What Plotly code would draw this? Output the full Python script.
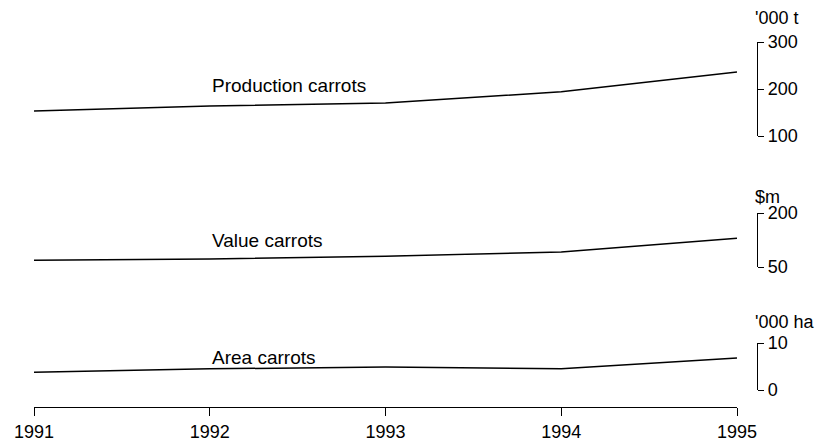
import plotly.graph_objects as go

years = [1991, 1992, 1993, 1994, 1995]
production = [153, 164, 170, 194, 236]   # '000 t
value = [69, 72, 80, 92, 130]            # $m
area = [3.8, 4.5, 4.9, 4.5, 6.8]         # '000 ha

FONT = "Liberation Sans, Arial, sans-serif"
OFF = 8  # default page body margin
W, H = 827 - OFF, 441 - OFF
ml = 34 - OFF
x_end = 737 - OFF
mr = 60
mt = 2
x_axis_y = 407 - OFF
mb = H - x_axis_y
pw = W - ml - mr
ph = H - mt - mb
xdom_end = (x_end - ml) / pw
ypos = (757 - OFF - ml) / pw

def ydom(top_px, bot_px):
    return [(x_axis_y - (bot_px - OFF)) / ph, (x_axis_y - (top_px - OFF)) / ph]

fig = go.Figure()
line = dict(color="black", width=1.5)
fig.add_trace(go.Scatter(x=years, y=production, mode="lines", line=line, xaxis="x", yaxis="y"))
fig.add_trace(go.Scatter(x=years, y=value, mode="lines", line=line, xaxis="x", yaxis="y2"))
fig.add_trace(go.Scatter(x=years, y=area, mode="lines", line=line, xaxis="x", yaxis="y3"))

yax_common = dict(anchor="free", position=ypos, side="right", showgrid=False, zeroline=False,
                  showline=True, linecolor="black", linewidth=1.2, ticks="outside", ticklen=6,
                  tickcolor="black", tickwidth=1.2, automargin=False,
                  tickfont=dict(family=FONT, size=18, color="black"))

fig.update_layout(
    width=W, height=H, margin=dict(l=ml, r=mr, t=mt, b=mb, autoexpand=False),
    paper_bgcolor="white", plot_bgcolor="white", showlegend=False,
    xaxis=dict(domain=[0, xdom_end], range=[1991, 1995], anchor="free", position=0,
               tickvals=years, ticktext=[str(y) for y in years], showgrid=False, zeroline=False,
               showline=True, linecolor="black", linewidth=1.2, ticks="outside", ticklen=8,
               tickcolor="black", tickwidth=1.2, automargin=False,
               tickfont=dict(family=FONT, size=18, color="black")),
    yaxis=dict(domain=ydom(42, 136), range=[100, 300], tickvals=[100, 200, 300], **yax_common),
    yaxis2=dict(domain=ydom(213, 267), range=[50, 200], tickvals=[50, 200], **yax_common),
    yaxis3=dict(domain=ydom(343, 390), range=[0, 10], tickvals=[0, 10], **yax_common),
)

ann_font = dict(family=FONT, size=19, color="black")
fig.add_annotation(x=1992, y=208, xref="x", yref="y", text="Production carrots",
                   showarrow=False, xanchor="left", yanchor="middle", font=ann_font)
fig.add_annotation(x=1992, y=125, xref="x", yref="y2", text="Value carrots",
                   showarrow=False, xanchor="left", yanchor="middle", font=ann_font)
fig.add_annotation(x=1992, y=7.0, xref="x", yref="y3", text="Area carrots",
                   showarrow=False, xanchor="left", yanchor="middle", font=ann_font)

for txt, ypx in [("'000 t", 18), ("$m", 197), ("'000 ha", 322)]:
    fig.add_annotation(x=ypos, y=(x_axis_y - (ypx - OFF)) / ph, xref="paper", yref="paper", text=txt,
                       showarrow=False, xanchor="left", yanchor="middle", xshift=-4,
                       font=dict(family=FONT, size=18, color="black"))

fig.write_html("out.html")
